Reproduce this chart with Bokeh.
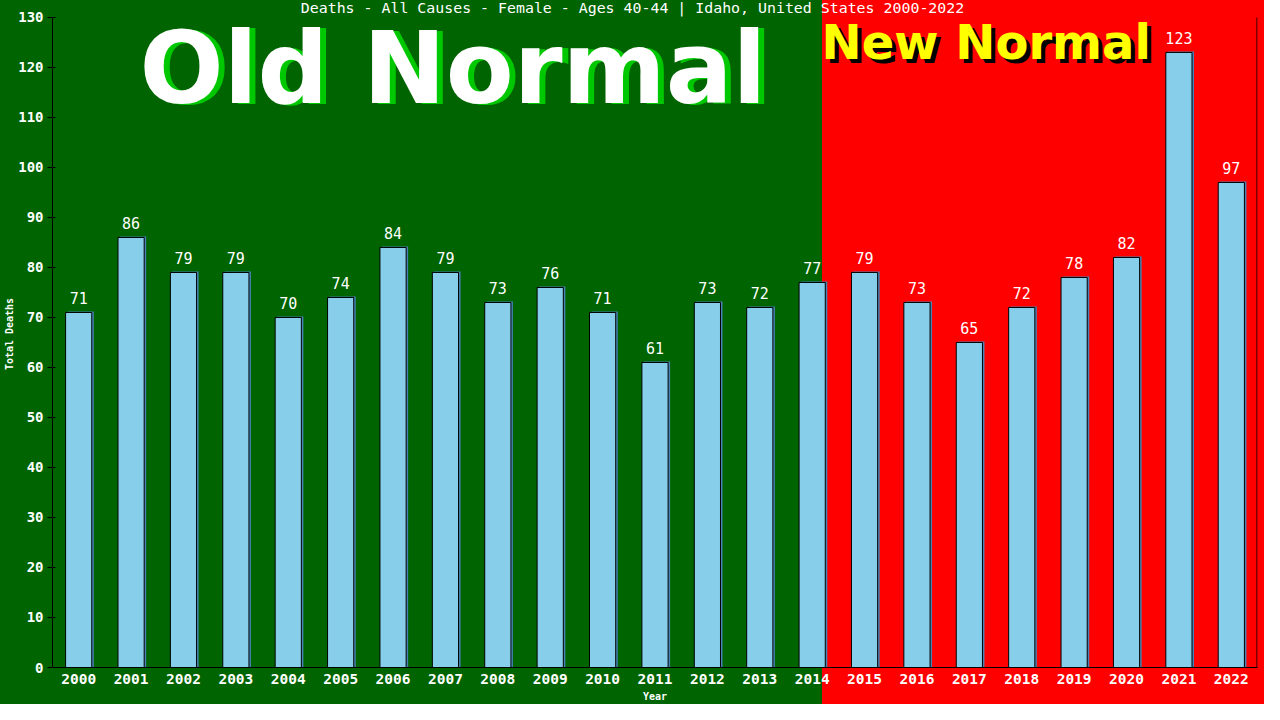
from bokeh.plotting import figure
from bokeh.models import ColumnDataSource, FixedTicker, Label
from bokeh.core.properties import value
from bokeh.embed import file_html
from bokeh.resources import INLINE

# ---------------- data ----------------
years = list(range(2000, 2023))
deaths = [71, 86, 79, 79, 70, 74, 84, 79, 73, 76, 71, 61, 73, 72, 77,
          79, 73, 65, 72, 78, 82, 123, 97]
y_ticks = list(range(0, 131, 10))
title_text = "Deaths - All Causes - Female - Ages 40-44 | Idaho, United States 2000-2022"
old_label = "Old Normal"
new_label = "New Normal"
x_label = "Year"
y_label = "Total Deaths"

# ---------------- layout ----------------
W, H = 1264, 704
LEFT, RIGHT, TOP, BOTTOM = 52, 7, 0, 35
FRAME_W = W - LEFT - RIGHT
PX_PER_Y = 652 / 130.0
Y_TOP = 130 + 17 / PX_PER_Y
PX_PER_X = FRAME_W / 23.0
SPLIT_PX = 822  # green / red split (figure px)

GREEN = "#006400"
RED = "#FF0000"


def dx(px):
    return (px - LEFT) / PX_PER_X - 0.5


def dy(py):
    return Y_TOP - (py - TOP) / PX_PER_Y


idx = list(range(len(years)))
src = ColumnDataSource(dict(
    x=idx,
    xs=[i + 2 / PX_PER_X for i in idx],
    top=deaths,
    tops=[d + 1 / PX_PER_Y for d in deaths],
    lbl=[str(d) for d in deaths],
))

p = figure(width=W, height=H, output_backend="svg", toolbar_location=None,
           x_range=(-0.5, 22.5), y_range=(0, Y_TOP),
           min_border_left=LEFT, min_border_right=RIGHT,
           min_border_top=TOP, min_border_bottom=BOTTOM)
p.styles = {"background": f"linear-gradient(90deg, {GREEN} 0px, {GREEN} {SPLIT_PX}px, {RED} {SPLIT_PX}px, {RED} 100%)"}
p.background_fill_alpha = 0
p.border_fill_alpha = 0
p.outline_line_color = None
p.xgrid.grid_line_color = None
p.ygrid.grid_line_color = None

# bars: shadow + main
p.vbar(x="xs", top="tops", bottom=0, width=0.5, source=src,
       fill_color="#4682B4", line_color=None)
p.vbar(x="x", top="top", bottom=0, width=0.5, source=src,
       fill_color="#87CEEB", line_color="black", line_width=1)

# value labels
p.text(x="x", y="top", text="lbl", source=src, text_align="center",
       text_baseline="alphabetic", y_offset=-14, text_color="white",
       text_font=value("DejaVu Sans Mono"), text_font_size="15px")

# right frame line
p.segment(x0=[22.5 - 0.5 / PX_PER_X], x1=[22.5 - 0.5 / PX_PER_X],
          y0=[0], y1=[130], line_color="black", line_width=1)

# title
p.add_layout(Label(x=dx(632), y=dy(8), text=title_text, text_color="white",
                   text_font="DejaVu Sans Mono", text_font_size="14.9px",
                   text_align="center", text_baseline="middle"))


# big captions (sizes avoid the "[1-9]00px" pattern that breaks the SVG font parser)
def caption(txt, px, py, color, size):
    return Label(x=dx(px), y=dy(py), text=txt, text_color=color,
                 text_font="DejaVu Sans", text_font_style="bold",
                 text_font_size=size, text_baseline="alphabetic",
                 text_align="left")


p.add_layout(caption(old_label, 139 + 6, 68 + 1, "#00C800", "99px"))
p.add_layout(caption(old_label, 139, 68, "white", "99px"))
p.add_layout(caption(new_label, 821 + 4, 42 + 4, "black", "48px"))
p.add_layout(caption(new_label, 821, 42, "#FFFF00", "48px"))

# axes
yax = p.yaxis[0]
yax.ticker = FixedTicker(ticks=y_ticks)
yax.bounds = (0, 130)
yax.axis_line_color = "black"
yax.major_tick_line_color = "black"
yax.major_tick_out = 5
yax.major_tick_in = 3
yax.minor_tick_line_color = None
yax.major_label_standoff = 4
yax.major_label_text_color = "white"
yax.major_label_text_font = "DejaVu Sans Mono"
yax.major_label_text_font_style = "bold"
yax.major_label_text_font_size = "14px"
yax.axis_label = y_label
yax.axis_label_text_color = "white"
yax.axis_label_text_font = "DejaVu Sans Mono"
yax.axis_label_text_font_style = "bold"
yax.axis_label_text_font_size = "10px"
yax.axis_label_standoff = 0

xax = p.xaxis[0]
xax.ticker = FixedTicker(ticks=idx)
xax.major_label_overrides = {i: str(y) for i, y in zip(idx, years)}
xax.axis_line_color = "black"
xax.major_tick_line_color = None
xax.minor_tick_line_color = None
xax.major_tick_out = 0
xax.major_tick_in = 0
xax.major_label_standoff = 6
xax.major_label_text_color = "white"
xax.major_label_text_font = "DejaVu Sans Mono"
xax.major_label_text_font_style = "bold"
xax.major_label_text_font_size = "14.5px"
xax.axis_label = x_label
xax.axis_label_text_color = "white"
xax.axis_label_text_font = "DejaVu Sans Mono"
xax.axis_label_text_font_style = "bold"
xax.axis_label_text_font_size = "10px"
xax.axis_label_standoff = 4

open("out.html", "w").write(file_html(p, INLINE))
